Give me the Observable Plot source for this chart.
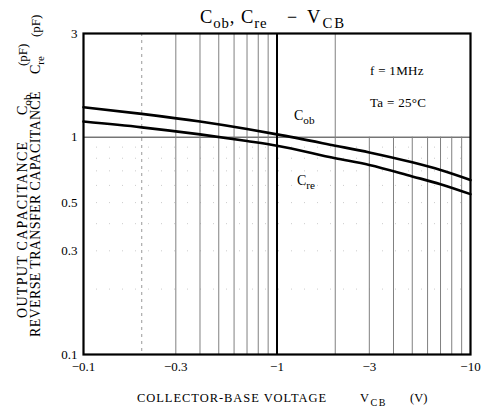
<!DOCTYPE html>
<html><head><meta charset="utf-8">
<script src="https://cdn.jsdelivr.net/npm/d3@7"></script>
<script src="https://cdn.jsdelivr.net/npm/@observablehq/plot@0.6"></script>
<style>body{margin:0;background:#fff} svg{display:block}</style>
</head><body><div id="chart"></div>
<script>
// |V_CB| (V), plotted as negative voltages
const vcb = [0.1, 0.2, 0.4, 0.7, 1, 2, 3, 5, 7, 10];
const cob = [1.373, 1.28, 1.18, 1.09, 1.03, 0.914, 0.851, 0.766, 0.706, 0.635];
const cre = [1.18, 1.11, 1.03, 0.96, 0.914, 0.80, 0.745, 0.66, 0.608, 0.547];
const xTicks = [0.1, 0.3, 1, 3, 10];
const yTicks = [0.1, 0.3, 0.5, 1, 3];
const gridLowDecade = [0.3, 0.4, 0.5, 0.6, 0.7, 0.8, 0.9];
const gridDashed = [0.2];
const gridFull = [2];
const gridPartial = [3, 4, 5, 6, 7, 8, 9];
const gridH = [0.2, 0.3, 0.4, 0.5, 0.6, 0.7, 0.8, 0.9];

const rows = vcb.flatMap((v, i) => [
  {v, c: cob[i], s: "Cob"},
  {v, c: cre[i], s: "Cre"}
]);

const serif = "'Liberation Serif', 'Times New Roman', serif";

const chart = Plot.plot({
  width: 494, height: 414,
  marginLeft: 83, marginRight: 24, marginTop: 33, marginBottom: 60,
  style: {fontFamily: serif, fontSize: "13px", color: "#000", background: "#fff"},
  x: {type: "log", domain: [0.1, 10], ticks: xTicks, tickFormat: d => "\u2212" + d, tickSize: 0, tickPadding: 7, label: null},
  y: {type: "log", domain: [0.1, 3], ticks: yTicks, tickFormat: d => String(d), tickSize: 0, tickPadding: 6, label: null},
  marks: [
    Plot.ruleY(gridH, {stroke: "#ccc", strokeDasharray: "1,12"}),
    Plot.ruleY([1], {stroke: "#333", strokeWidth: 1}),
    Plot.ruleX(gridDashed, {stroke: "#999", strokeDasharray: "3,4"}),
    Plot.ruleX(gridLowDecade, {stroke: "#808080", strokeWidth: 1}),
    Plot.ruleX(gridFull, {stroke: "#808080", strokeWidth: 1}),
    Plot.ruleX(gridPartial, {y1: () => 0.1, y2: () => 1, stroke: "#808080", strokeWidth: 1}),
    Plot.ruleX([1], {stroke: "#000", strokeWidth: 2}),
    Plot.frame({stroke: "#000", strokeWidth: 2.2}),
    Plot.line(rows, {x: "v", y: "c", z: "s", stroke: "#000", strokeWidth: 2.6, curve: "monotone-x"})
  ]
});
document.getElementById("chart").appendChild(chart);

const svg = d3.select(chart);
// parts: [text, isSubscript]
function label(x, y, parts, size, opts = {}) {
  const t = svg.append("text").attr("x", x).attr("y", y)
    .attr("font-family", serif).attr("font-size", size).attr("fill", "#000")
    .attr("text-anchor", opts.anchor || "start")
    .style("white-space", "pre");
  if (opts.spacing) t.attr("letter-spacing", opts.spacing);
  if (opts.rotate) t.attr("transform", `rotate(-90 ${x} ${y})`);
  const sd = size * 0.28;
  let shifted = false;
  parts.forEach(([s, isSub]) => {
    const ts = t.append("tspan").text(s);
    if (isSub) {
      ts.attr("font-size", size * 0.8);
      if (!shifted) { ts.attr("dy", sd); shifted = true; }
    } else if (shifted) { ts.attr("dy", -sd); shifted = false; }
  });
  return t;
}

// title
label(200, 23, [["C"], ["ob", 1], [", C"], ["re", 1]], 18.5, {spacing: 0.9});
label(292, 23, [["\u2212"]], 18, {anchor: "middle"});
label(307, 23, [["V"], ["CB", 1]], 18.5, {spacing: 2});
// x title
label(137, 402, [["COLLECTOR-BASE VOLTAGE"]], 12.5, {spacing: 0.95});
label(360, 402, [["V"], ["CB", 1]], 12.5, {spacing: 1.5});
label(410, 402, [["(V)"]], 12.5);
// y titles (rotated)
label(27, 318, [["OUTPUT CAPACITANCE"]], 14, {rotate: true, spacing: 1.3});
label(27, 115, [["C"], ["ob", 1]], 14, {rotate: true});
label(27, 66, [["(pF)"]], 13, {rotate: true});
label(40, 337, [["REVERSE TRANSFER CAPACITANCE"]], 14, {rotate: true, spacing: 0.35});
label(40, 74, [["C"], ["re", 1]], 14, {rotate: true});
label(40, 37, [["(pF)"]], 13, {rotate: true});
// annotations
label(370, 75, [["f = 1MHz"]], 13, {spacing: 0.3});
label(370, 107, [["Ta = 25\u00b0C"]], 13, {spacing: 0.3});
label(294, 120, [["C"], ["ob", 1]], 14);
label(297, 185, [["C"], ["re", 1]], 14);
</script>
</body></html>
